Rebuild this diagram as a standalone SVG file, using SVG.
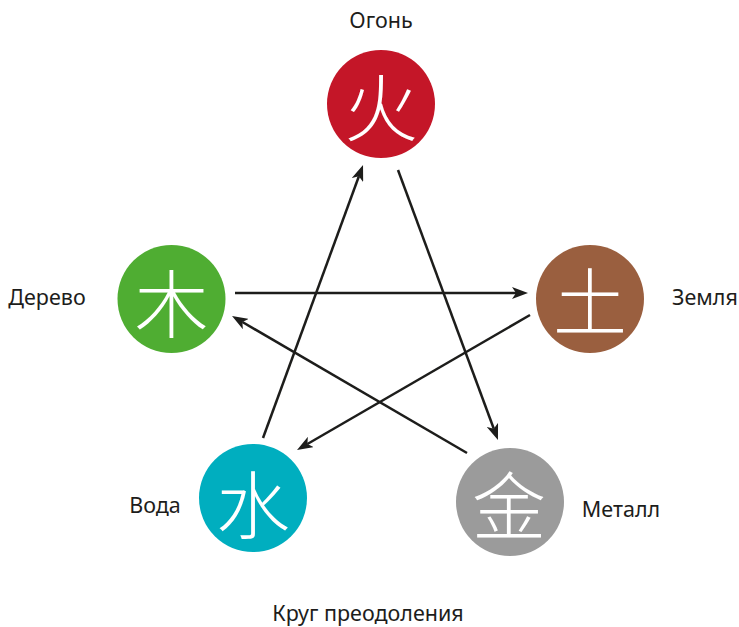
<svg xmlns="http://www.w3.org/2000/svg" width="739" height="627" viewBox="0 0 739 627">
  <style>
    .lbl { font-family: "Noto Sans", "Liberation Sans", sans-serif; font-size: 21.5px; fill: #1d1d1b; }
    .glyph { font-family: "Noto Sans CJK SC", "Noto Sans CJK JP", sans-serif; font-size: 74px; font-weight: 300; fill: #ffffff; text-anchor: middle; dominant-baseline: central; }
    .conn { stroke: #1d1d1b; stroke-width: 2.5; fill: none; marker-end: url(#arrow); }
  </style>
  <defs>
    <marker id="arrow" viewBox="0 0 16 12" markerWidth="16" markerHeight="12" refX="4" refY="6" orient="auto" markerUnits="userSpaceOnUse">
      <path d="M0,0 L16,6 L0,12 L4,6 Z" fill="#1d1d1b"/>
    </marker>
  </defs>
  <rect width="739" height="627" fill="#ffffff"/>

  <g id="fire">
    <circle cx="381" cy="104" r="54" fill="#c41628"/>
    <text class="glyph" x="381" y="103">火</text>
    <text class="lbl" x="381" y="28" text-anchor="middle">Огонь</text>
  </g>
  <g id="earth">
    <circle cx="590" cy="299" r="54" fill="#9a5f3f"/>
    <text class="glyph" x="590" y="297">土</text>
    <text class="lbl" x="705" y="305" text-anchor="middle">Земля</text>
  </g>
  <g id="wood">
    <circle cx="171.5" cy="299" r="54" fill="#4fad32"/>
    <text class="glyph" x="171.5" y="299">木</text>
    <text class="lbl" x="47" y="305" text-anchor="middle">Дерево</text>
  </g>
  <g id="water">
    <circle cx="253" cy="498" r="54" fill="#00aebf"/>
    <text class="glyph" x="253" y="500">水</text>
    <text class="lbl" x="155" y="513" text-anchor="middle">Вода</text>
  </g>
  <g id="metal">
    <circle cx="510" cy="502" r="54" fill="#9b9b9b"/>
    <text class="glyph" x="509" y="501">金</text>
    <text class="lbl" x="621" y="517" text-anchor="middle">Металл</text>
  </g>

  <g id="connectors">
    <line class="conn" x1="263" y1="438" x2="358.9" y2="176.3"/>
    <line class="conn" x1="398" y1="170" x2="493.8" y2="428.7"/>
    <line class="conn" x1="235" y1="293" x2="516" y2="293"/>
    <line class="conn" x1="530" y1="315" x2="307.4" y2="444"/>
    <line class="conn" x1="467" y1="453" x2="242.4" y2="322"/>
  </g>

  <text class="lbl" x="368" y="621" text-anchor="middle">Круг преодоления</text>
</svg>
